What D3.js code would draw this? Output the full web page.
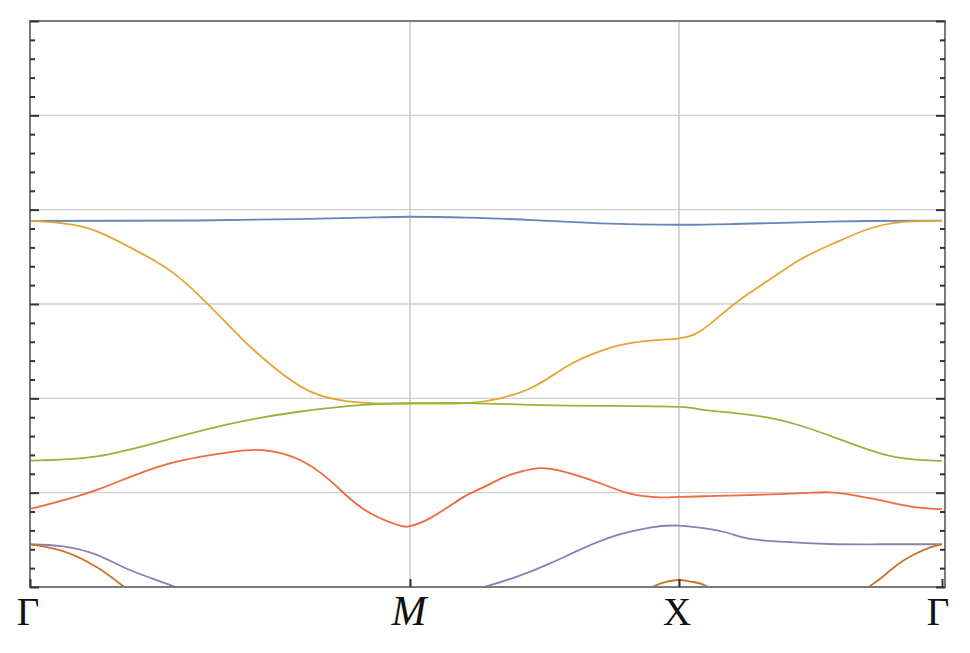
<!DOCTYPE html>
<html>
<head>
<meta charset="utf-8">
<script src="https://cdn.jsdelivr.net/npm/d3@7"></script>
<style>
  html, body { margin: 0; padding: 0; background: #ffffff; }
  svg { display: block; }
</style>
</head>
<body>
<div id="chart"></div>
<script>
// ---- data ----------------------------------------------------------------
// high-symmetry path: Γ -> M -> X -> Γ  (path length in units of 2π/a)
const kLabels    = ["Γ", "M", "X", "Γ"];
const kPositions = [0, 1.4142, 2.4142, 3.4142];
const kItalic    = [false, true, false, false];

// y axis (arbitrary frequency units), no tick labels
const yMin = 0, yMax = 6;
const yMajorTicks = [0, 1, 2, 3, 4, 5, 6];
const yGridLines  = [1, 2, 3, 4, 5];

// band 1 (blue)
const band1K = [0, 0.622, 0.994, 1.239, 1.414, 1.626, 1.872, 2.121, 2.414, 2.620, 2.874, 3.129, 3.414];
const band1V = [3.88, 3.885, 3.90, 3.915, 3.925, 3.915, 3.89, 3.855, 3.84, 3.848, 3.865, 3.88, 3.883];

// band 2 (orange)
const band2K = [0, 0.123, 0.249, 0.409, 0.533, 0.658, 0.782, 0.905, 1.030, 1.154, 1.278, 1.414,
                1.626, 1.749, 1.872, 1.998, 2.121, 2.243, 2.370, 2.414, 2.494, 2.620, 2.749, 2.874, 3.000, 3.129, 3.254, 3.414];
const band2V = [3.883, 3.855, 3.77, 3.545, 3.33, 3.01, 2.65, 2.335, 2.09, 1.98, 1.947, 1.945,
                1.95, 2.0, 2.12, 2.34, 2.50, 2.59, 2.625, 2.635, 2.71, 2.99, 3.24, 3.47, 3.64, 3.79, 3.866, 3.883];

// band 3 (green)
const band3K = [0, 0.249, 0.495, 0.744, 0.994, 1.239, 1.414, 1.626, 1.872, 2.121, 2.414, 2.494, 2.620, 2.749,
                2.874, 3.015, 3.178, 3.304, 3.414];
const band3V = [1.34, 1.385, 1.55, 1.73, 1.855, 1.93, 1.948, 1.95, 1.93, 1.92, 1.91, 1.882, 1.845, 1.797,
                1.712, 1.576, 1.417, 1.354, 1.338];

// band 4 (red)
const band4K = [0, 0.249, 0.495, 0.744, 0.867, 0.994, 1.116, 1.239, 1.366, 1.414, 1.489, 1.611, 1.674, 1.760,
                1.823, 1.897, 1.961, 2.009, 2.121, 2.232, 2.344, 2.414, 2.559, 2.684, 2.798, 2.924, 2.988, 3.053,
                3.178, 3.304, 3.414];
const band4V = [0.827, 1.03, 1.29, 1.43, 1.45, 1.36, 1.13, 0.83, 0.66, 0.645, 0.73, 0.95, 1.04, 1.16,
                1.22, 1.26, 1.24, 1.205, 1.10, 0.99, 0.95, 0.955, 0.965, 0.975, 0.985, 1.0, 1.004, 0.985,
                0.92, 0.85, 0.825];

// band 5 (purple) – dips below the visible range between Γ and M
const band5K = [0, 0.123, 0.249, 0.372, 0.532, 0.744, 0.994, 1.239, 1.414, 1.526, 1.637, 1.700, 1.812,
                1.935, 2.057, 2.184, 2.306, 2.414, 2.559, 2.620, 2.684, 2.749, 2.798, 2.988, 3.178, 3.414];
const band5V = [0.453, 0.43, 0.34, 0.18, 0.01, -0.2, -0.33, -0.36, -0.35, -0.22, -0.05, 0.01, 0.11,
                0.25, 0.41, 0.55, 0.63, 0.65, 0.60, 0.555, 0.51, 0.49, 0.48, 0.456, 0.453, 0.453];

// band 6 (dark orange) – acoustic-like band, mostly below the visible range
const band6K = [0, 0.123, 0.249, 0.346, 0.495, 0.744, 1.116, 1.414, 1.749, 2.046, 2.195, 2.314, 2.366,
                2.414, 2.464, 2.525, 2.646, 2.798, 2.924, 3.026, 3.137, 3.178, 3.243, 3.304, 3.369, 3.414];
const band6V = [0.453, 0.38, 0.21, 0.01, -0.3, -0.6, -0.75, -0.75, -0.6, -0.45, -0.2, 0.0, 0.055,
                0.074, 0.055, 0.0, -0.25, -0.5, -0.4, -0.24, 0.0, 0.085, 0.233, 0.339, 0.42, 0.453];

const bands = [
  { k: band1K, v: band1V, color: "#6586BB" },
  { k: band2K, v: band2V, color: "#E5A535" },
  { k: band3K, v: band3V, color: "#94B43E" },
  { k: band4K, v: band4V, color: "#EC6B40" },
  { k: band5K, v: band5V, color: "#8C7EB7" },
  { k: band6K, v: band6V, color: "#C97528" }
];

// ---- layout --------------------------------------------------------------
const W = 970, H = 653;
const pLeft = 30, pRight = 945, pTop = 21, pBottom = 587;
const dataRight = 942;

const svg = d3.select("#chart").append("svg")
  .attr("width", W).attr("height", H);

// piecewise x scale so the high-symmetry points land where they are in the figure
const x = d3.scaleLinear()
  .domain(kPositions)
  .range([pLeft, 410, 679, dataRight]);

const y = d3.scaleLinear().domain([yMin, yMax]).range([pBottom, pTop]);

svg.append("defs").append("clipPath").attr("id", "plotclip")
  .append("rect")
  .attr("x", pLeft).attr("y", pTop)
  .attr("width", pRight - pLeft).attr("height", pBottom - pTop);

// grid
const grid = svg.append("g");
grid.selectAll("line.h").data(yGridLines).join("line")
  .attr("class", "h")
  .attr("x1", pLeft).attr("x2", pRight)
  .attr("y1", d => y(d)).attr("y2", d => y(d))
  .attr("stroke", "#cfcfcf").attr("stroke-width", 1.4);
grid.selectAll("line.v").data(kPositions.slice(1, 3)).join("line")
  .attr("class", "v")
  .attr("x1", d => x(d)).attr("x2", d => x(d))
  .attr("y1", pTop).attr("y2", pBottom)
  .attr("stroke", "#c4c4c4").attr("stroke-width", 1.4);

// bands
const line = d3.line()
  .x(d => x(d[0])).y(d => y(d[1]))
  .curve(d3.curveNatural);

const bandG = svg.append("g").attr("clip-path", "url(#plotclip)");
bands.forEach(b => {
  bandG.append("path")
    .datum(d3.zip(b.k, b.v))
    .attr("d", line)
    .attr("fill", "none")
    .attr("stroke", b.color)
    .attr("stroke-width", 1.8)
    .attr("stroke-linejoin", "round");
});

// frame
svg.append("rect")
  .attr("x", pLeft).attr("y", pTop)
  .attr("width", pRight - pLeft).attr("height", pBottom - pTop)
  .attr("fill", "none").attr("stroke", "#7a7a7a").attr("stroke-width", 2);

// y ticks (left & right, no labels)
const yMinorTicks = d3.range(0, 31).map(i => i / 5).filter(v => !yMajorTicks.includes(v));
function styleAxis(g) {
  g.select(".domain").remove();
  g.selectAll(".tick line").attr("stroke", "#333").attr("stroke-width", 2);
}
svg.append("g").attr("transform", `translate(${pLeft},0)`)
  .call(d3.axisRight(y).tickValues(yMajorTicks).tickSize(9).tickFormat("")).call(styleAxis);
svg.append("g").attr("transform", `translate(${pLeft},0)`)
  .call(d3.axisRight(y).tickValues(yMinorTicks).tickSize(5).tickFormat("")).call(styleAxis);
svg.append("g").attr("transform", `translate(${pRight},0)`)
  .call(d3.axisLeft(y).tickValues(yMajorTicks).tickSize(9).tickFormat("")).call(styleAxis);
svg.append("g").attr("transform", `translate(${pRight},0)`)
  .call(d3.axisLeft(y).tickValues(yMinorTicks).tickSize(5).tickFormat("")).call(styleAxis);

// x ticks (bottom, pointing up) with labels
svg.append("g").attr("transform", `translate(0,${pBottom})`)
  .call(d3.axisTop(x).tickValues(kPositions).tickSize(8).tickFormat("")).call(styleAxis);

const labelShift = [-2, -1, -2, -4];
svg.append("g").selectAll("text").data(kLabels).join("text")
  .attr("x", (d, i) => x(kPositions[i]) + labelShift[i])
  .attr("y", 625)
  .attr("text-anchor", "middle")
  .attr("font-family", "'Liberation Serif', 'Times New Roman', serif")
  .attr("font-size", (d, i) => kItalic[i] ? 42 : 39)
  .attr("font-style", (d, i) => kItalic[i] ? "italic" : "normal")
  .attr("fill", "#111")
  .text(d => d);
</script>
</body>
</html>
